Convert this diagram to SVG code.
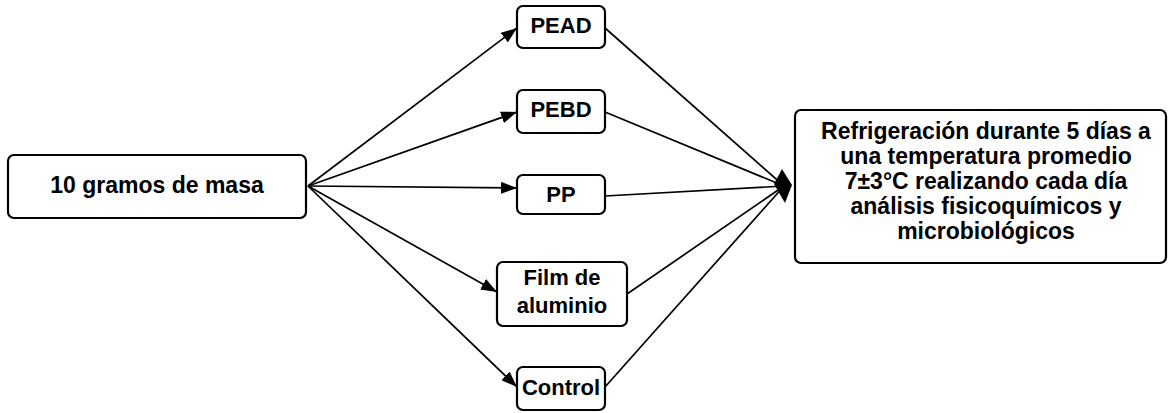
<svg xmlns="http://www.w3.org/2000/svg" width="1169" height="413" viewBox="0 0 1169 413">
<style>
.box{fill:#fff;stroke:#000;stroke-width:2.2}
.t{font-family:"Liberation Sans",Arial,sans-serif;font-weight:bold;font-size:22px;fill:#000;text-anchor:middle}
.c{fill:none;stroke:#000;stroke-width:1.7}
</style>
<defs>
<marker id="arr" viewBox="0 0 16 12" refX="16" refY="6" markerWidth="16" markerHeight="12" markerUnits="userSpaceOnUse" orient="auto">
<path d="M0,0 L16,6 L0,12 Z" fill="#000"/>
</marker>
</defs>
<rect width="1169" height="413" fill="#fff"/>
<g id="connectors">
<line class="c" x1="308" y1="186" x2="517" y2="28" marker-end="url(#arr)"/>
<line class="c" x1="308" y1="186" x2="517" y2="112" marker-end="url(#arr)"/>
<line class="c" x1="308" y1="186" x2="517" y2="188" marker-end="url(#arr)"/>
<line class="c" x1="308" y1="186" x2="497" y2="292" marker-end="url(#arr)"/>
<line class="c" x1="308" y1="186" x2="517" y2="387" marker-end="url(#arr)"/>
<line class="c" x1="605" y1="28" x2="784" y2="186"/>
<line class="c" x1="605" y1="112" x2="784" y2="186"/>
<line class="c" x1="605" y1="196" x2="784" y2="186"/>
<line class="c" x1="627" y1="294" x2="784" y2="186"/>
<line class="c" x1="605" y1="387" x2="784" y2="186"/>
<polygon points="782,169 792,185 785,203 774,184" fill="#000"/>
</g>
<g id="masa">
<rect class="box" x="8" y="155" width="298" height="63" rx="6"/>
<text class="t" x="157" y="193" style="font-size:23px">10 gramos de masa</text>
</g>
<g id="pead">
<rect class="box" x="517" y="6" width="88" height="42" rx="6"/>
<text class="t" x="561" y="33">PEAD</text>
</g>
<g id="pebd">
<rect class="box" x="517" y="90" width="88" height="43" rx="6"/>
<text class="t" x="561" y="117">PEBD</text>
</g>
<g id="pp">
<rect class="box" x="517" y="175" width="88" height="39" rx="6"/>
<text class="t" x="561" y="202">PP</text>
</g>
<g id="film">
<rect class="box" x="497" y="262" width="130" height="64" rx="6"/>
<text class="t" x="562" y="285">Film de</text>
<text class="t" x="562" y="313">aluminio</text>
</g>
<g id="control">
<rect class="box" x="517" y="367" width="88" height="43" rx="6"/>
<text class="t" x="561" y="395">Control</text>
</g>
<g id="refrig">
<rect class="box" x="795" y="110" width="371" height="153" rx="6"/>
<text class="t" x="986" y="139" style="font-size:23px">Refrigeración durante 5 días a</text>
<text class="t" x="986" y="164" style="font-size:23px">una temperatura promedio</text>
<text class="t" x="986" y="189" style="font-size:23px">7±3°C realizando cada día</text>
<text class="t" x="986" y="214" style="font-size:23px">análisis fisicoquímicos y</text>
<text class="t" x="986" y="239" style="font-size:23px">microbiológicos</text>
</g>
</svg>
